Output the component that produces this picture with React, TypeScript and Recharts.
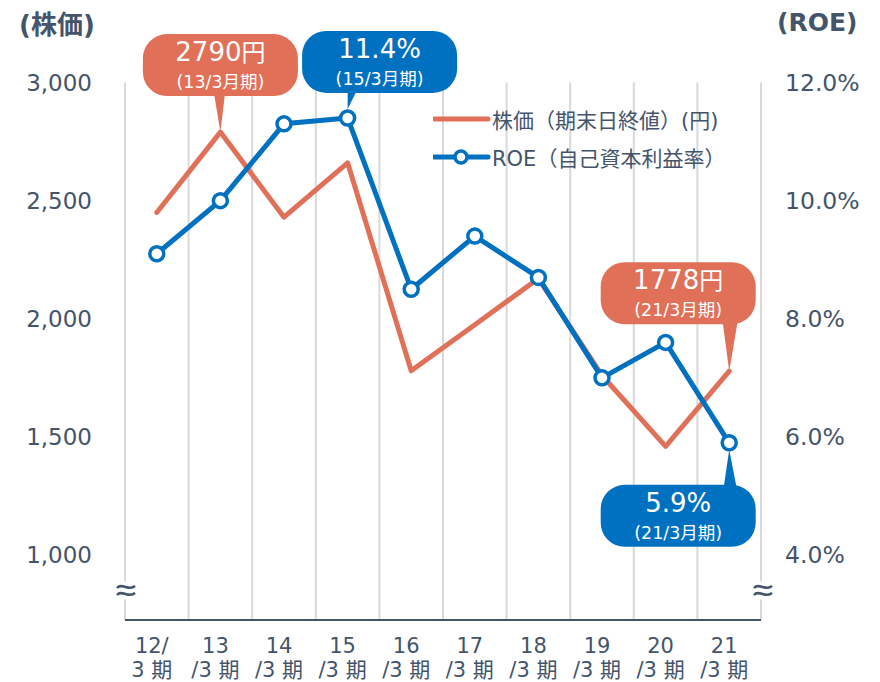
import { ComposedChart, Line, XAxis, YAxis, CartesianGrid, Legend, LabelList } from 'recharts';

const periodKeys = ['12/3', '13/3', '14/3', '15/3', '16/3', '17/3', '18/3', '19/3', '20/3', '21/3'];
const periodTop = ['12/', '13', '14', '15', '16', '17', '18', '19', '20', '21'];
const periodBottom = ['3 期', '/3 期', '/3 期', '/3 期', '/3 期', '/3 期', '/3 期', '/3 期', '/3 期', '/3 期'];
const stockPrice = [2450, 2790, 2430, 2660, 1780, 1975, 2170, 1760, 1460, 1778];
const roeRate = [9.1, 10.0, 11.3, 11.4, 8.5, 9.4, 8.7, 7.0, 7.6, 5.9];
// first tick of each axis is where the axis break mark goes
const priceTicks = [850, 1000, 1500, 2000, 2500, 3000];
const roeTicks = [3.4, 4, 6, 8, 10, 12];
const priceCallouts = [1, 9];
const roeCallouts = [3, 9];

const ORANGE = '#E07058';
const BLUE = '#0070C0';
const TEXT = '#44546A';
const FONT = "'DejaVu Sans', 'Noto Sans CJK JP', sans-serif";

const data = periodKeys.map((period, i) => ({ period, price: stockPrice[i], roe: roeRate[i] }));

// per-callout placement relative to its point
const calloutPlacement: Record<string, { dx: number; top: number; tipDy: number; b1: number; b2: number }> = {
  'price-1': { dx: 0, top: -98, tipDy: 0, b1: -7, b2: 5 },
  'price-9': { dx: -51, top: -109, tipDy: 0, b1: -7, b2: 9 },
  'roe-3': { dx: 32, top: -87, tipDy: -9, b1: 0, b2: 11 },
  'roe-9': { dx: -51, top: 42, tipDy: 7, b1: -6, b2: 8 },
};

function Callout({ x, y, fill, main, unit, sub, place }: any) {
  const w = 155;
  const h = 62;
  const cx = x + place.dx;
  const boxTop = y + place.top;
  const edge = place.top > 0 ? boxTop + 6 : boxTop + h - 6;
  return (
    <g>
      <polygon points={`${x + place.b1},${edge} ${x + place.b2},${edge} ${x},${y + place.tipDy}`} fill={fill} />
      <rect x={cx - w / 2} y={boxTop} width={w} height={h} rx={24} fill={fill} />
      <text x={cx} y={boxTop + 27} textAnchor="middle" fill="#fff" fontSize={26} fontFamily={FONT}>
        {main}
        {unit && <tspan fontSize={24}>{unit}</tspan>}
      </text>
      <text x={cx} y={boxTop + 54} textAnchor="middle" fill="#fff" fontSize={17.5} fontFamily={FONT}>
        {sub}
      </text>
    </g>
  );
}

const priceCallout = (props: any) => {
  const { x, y, index } = props;
  if (!priceCallouts.includes(index)) return null;
  return (
    <Callout x={x} y={y} fill={ORANGE} main={`${stockPrice[index]}`} unit="円"
      sub={`(${periodKeys[index]}月期)`} place={calloutPlacement[`price-${index}`]} />
  );
};

const roeCallout = (props: any) => {
  const { x, y, index } = props;
  if (!roeCallouts.includes(index)) return null;
  return (
    <Callout x={x} y={y} fill={BLUE} main={`${roeRate[index].toFixed(1)}%`} unit=""
      sub={`(${periodKeys[index]}月期)`} place={calloutPlacement[`roe-${index}`]} />
  );
};

function BreakMark({ cx, cy }: { cx: number; cy: number }) {
  return (
    <g>
      <rect x={cx - 10} y={cy - 9} width={20} height={18} fill="#fff" />
      {[-3.5, 3.5].map((oy) => (
        <path key={oy}
          d={`M${cx - 9},${cy + oy + 1} C${cx - 4},${cy + oy - 5} ${cx + 3},${cy + oy + 5} ${cx + 9},${cy + oy - 1}`}
          fill="none" stroke={TEXT} strokeWidth={2.5} />
      ))}
    </g>
  );
}

const PriceTick = ({ x, y, payload }: any) => {
  if (payload.value === priceTicks[0]) return <BreakMark cx={x + 34} cy={y} />;
  return (
    <text x={x} y={y} dy="0.36em" textAnchor="end" fill={TEXT} fontSize={23} fontFamily={FONT}>
      {payload.value.toLocaleString('en-US')}
    </text>
  );
};

const RoeTick = ({ x, y, payload }: any) => {
  if (payload.value === roeTicks[0]) return <BreakMark cx={x - 22} cy={y} />;
  return (
    <text x={x} y={y} dy="0.36em" textAnchor="start" fill={TEXT} fontSize={23.5} fontFamily={FONT}>
      {payload.value.toFixed(1)}%
    </text>
  );
};

const PeriodTick = ({ x, y, index }: any) => (
  <g>
    <text x={x - 5} y={y + 25} textAnchor="middle" fill={TEXT} fontSize={21} fontFamily={FONT}>
      {periodTop[index]}
    </text>
    <text x={x - 5} y={y + 49} textAnchor="middle" fill={TEXT} fontSize={21} fontFamily={FONT}>
      {periodBottom[index]}
    </text>
  </g>
);

const renderLegend = () => (
  <div style={{ fontFamily: FONT, fontSize: 21, color: TEXT }}>
    <div style={{ display: 'flex', alignItems: 'center', height: 38 }}>
      <svg width={59} height={20}>
        <line x1={1} y1={10} x2={55} y2={10} stroke={ORANGE} strokeWidth={5} strokeLinecap="round" />
      </svg>
      <span>株価（期末日終値）(円)</span>
    </div>
    <div style={{ display: 'flex', alignItems: 'center', height: 38 }}>
      <svg width={59} height={20}>
        <line x1={1} y1={10} x2={55} y2={10} stroke={BLUE} strokeWidth={5} strokeLinecap="round" />
        <circle cx={28} cy={10} r={6} fill="#fff" stroke={BLUE} strokeWidth={3.5} />
      </svg>
      <span>ROE（自己資本利益率）</span>
    </div>
  </div>
);

export default function App() {
  return (
    <div style={{ position: 'absolute', left: 0, top: 0, width: 880, height: 682, background: '#fff', fontFamily: FONT }}>
      <div style={{ position: 'absolute', left: 19, top: 12, fontSize: 26, fontWeight: 'bold', color: TEXT, lineHeight: 1 }}>
        (株価)
      </div>
      <div style={{ position: 'absolute', left: 777, top: 10, fontSize: 25, fontWeight: 'bold', color: TEXT, lineHeight: 1 }}>
        (ROE)
      </div>
      <ComposedChart width={880} height={682} data={data} margin={{ top: 82.5, right: 59, bottom: 12, left: 65 }}>
        <CartesianGrid
          horizontal={false}
          stroke="#D9D9D9"
          strokeWidth={2}
          verticalCoordinatesGenerator={({ offset }: any) =>
            Array.from({ length: periodKeys.length + 1 }, (_, i) => offset.left + (offset.width * i) / periodKeys.length)
          }
        />
        <XAxis dataKey="period" scale="band" interval={0} height={50} tickLine={false}
          axisLine={{ stroke: TEXT, strokeWidth: 2 }} tick={<PeriodTick />} />
        <YAxis yAxisId="price" orientation="left" width={60} domain={[725, 3000]} ticks={priceTicks}
          interval={0} axisLine={false} tickLine={false} tickMargin={27} tick={<PriceTick />} />
        <YAxis yAxisId="roe" orientation="right" width={60} domain={[2.9, 12]} ticks={roeTicks}
          interval={0} axisLine={false} tickLine={false} tickMargin={18} tick={<RoeTick />} />
        <Legend layout="vertical" align="center" verticalAlign="middle" content={renderLegend}
          wrapperStyle={{ left: 433, top: 100, width: 340 }} />
        <Line yAxisId="price" type="linear" dataKey="price" stroke={ORANGE} strokeWidth={5}
          strokeLinejoin="round" strokeLinecap="round" dot={false} activeDot={false} isAnimationActive={false}>
          <LabelList dataKey="price" content={priceCallout} />
        </Line>
        <Line yAxisId="roe" type="linear" dataKey="roe" stroke={BLUE} strokeWidth={5}
          strokeLinejoin="round" dot={{ r: 7, fill: '#fff', stroke: BLUE, strokeWidth: 3.5 }}
          activeDot={false} isAnimationActive={false}>
          <LabelList dataKey="roe" content={roeCallout} />
        </Line>
      </ComposedChart>
    </div>
  );
}
